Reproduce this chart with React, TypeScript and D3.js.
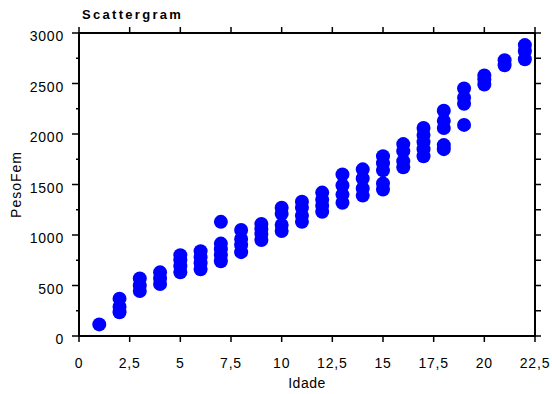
import React, { useRef, useEffect } from 'react';
import * as d3 from 'd3';

// Idade (x) -> PesoFem readings (y)
const ages = [1, 2, 3, 4, 5, 6, 7, 8, 9, 10, 11, 12, 13, 14, 15, 16, 17, 18, 19, 20, 21, 22];
const weights: number[][] = [
  [115],
  [235, 290, 370],
  [445, 500, 570],
  [515, 570, 630],
  [630, 690, 750, 800],
  [660, 720, 780, 840],
  [740, 800, 860, 915, 1130],
  [830, 900, 960, 1050],
  [950, 1010, 1060, 1110],
  [1040, 1100, 1210, 1270],
  [1130, 1190, 1270, 1330],
  [1230, 1290, 1350, 1420],
  [1320, 1400, 1490, 1600],
  [1390, 1460, 1560, 1650],
  [1450, 1510, 1640, 1710, 1780],
  [1670, 1730, 1830, 1900],
  [1780, 1850, 1920, 1990, 2060],
  [1850, 1890, 2060, 2130, 2230],
  [2090, 2300, 2360, 2450],
  [2490, 2540, 2580],
  [2680, 2730],
  [2740, 2820, 2880],
];
const xTicks = [0, 2.5, 5, 7.5, 10, 12.5, 15, 17.5, 20, 22.5];
const yTicks = [0, 500, 1000, 1500, 2000, 2500, 3000];
const yMinor = [250, 750, 1250, 1750, 2250, 2750];

const W = 552;
const H = 394;

const App: React.FC = () => {
  const svgRef = useRef<SVGSVGElement>(null);

  useEffect(() => {
    if (!svgRef.current) return;
    const svg = d3.select(svgRef.current);
    svg.selectAll('*').remove();

    const left = 79, right = 535, top = 33, bottom = 336;
    const x = d3.scaleLinear().domain([0, 22.5]).range([left, right]);
    const y = d3.scaleLinear().domain([0, 3000]).range([bottom, top]);
    const font = '"Liberation Sans", Arial, sans-serif';
    const fmt = (d: number) => String(d).replace('.', ',');

    const points = ages.flatMap((a, i) => weights[i].map(w => ({ a, w })));

    // points
    svg.append('g')
      .selectAll('circle')
      .data(points)
      .enter()
      .append('circle')
      .attr('cx', d => x(d.a))
      .attr('cy', d => y(d.w))
      .attr('r', 7)
      .attr('fill', '#0000ff');

    // frame
    svg.append('rect')
      .attr('x', left)
      .attr('y', top)
      .attr('width', right - left)
      .attr('height', bottom - top)
      .attr('fill', 'none')
      .attr('stroke', '#000')
      .attr('stroke-width', 2);

    const ticks = svg.append('g').attr('stroke', '#000').attr('stroke-width', 1.5);

    // x ticks, bottom and top
    xTicks.forEach(t => {
      ticks.append('line').attr('x1', x(t)).attr('x2', x(t)).attr('y1', bottom).attr('y2', bottom + 6);
      ticks.append('line').attr('x1', x(t)).attr('x2', x(t)).attr('y1', top).attr('y2', top - 6);
    });
    // y ticks
    yTicks.forEach(t => {
      ticks.append('line').attr('x1', left - 7).attr('x2', left).attr('y1', y(t)).attr('y2', y(t));
      ticks.append('line').attr('x1', right).attr('x2', right + 6).attr('y1', y(t)).attr('y2', y(t));
    });
    yMinor.forEach(t => {
      ticks.append('line').attr('x1', left - 3).attr('x2', left).attr('y1', y(t)).attr('y2', y(t));
      ticks.append('line').attr('x1', right).attr('x2', right + 6).attr('y1', y(t)).attr('y2', y(t));
    });

    // tick labels
    svg.append('g')
      .selectAll('text')
      .data(xTicks)
      .enter()
      .append('text')
      .attr('x', d => x(d))
      .attr('y', 368)
      .attr('text-anchor', 'middle')
      .style('font-family', font)
      .style('font-size', '14px')
      .style('letter-spacing', '0.8px')
      .text(d => fmt(d));

    svg.append('g')
      .selectAll('text')
      .data(yTicks)
      .enter()
      .append('text')
      .attr('x', 64)
      .attr('y', d => y(d) + 8)
      .attr('text-anchor', 'end')
      .style('font-family', font)
      .style('font-size', '14px')
      .style('letter-spacing', '0.8px')
      .text(d => fmt(d));

    // titles
    svg.append('text')
      .attr('x', 82)
      .attr('y', 19)
      .style('font-family', font)
      .style('font-size', '13px')
      .style('font-weight', 'bold')
      .style('letter-spacing', '2.3px')
      .text('Scattergram');

    svg.append('text')
      .attr('x', (left + right) / 2)
      .attr('y', 388)
      .attr('text-anchor', 'middle')
      .style('font-family', font)
      .style('font-size', '14px')
      .style('letter-spacing', '0.5px')
      .text('Idade');

    svg.append('text')
      .attr('transform', `translate(21, ${(top + bottom) / 2}) rotate(-90)`)
      .attr('text-anchor', 'middle')
      .style('font-family', font)
      .style('font-size', '14px')
      .style('letter-spacing', '1px')
      .text('PesoFem');
  }, []);

  return (
    <svg
      ref={svgRef}
      width={W}
      height={H}
      style={{ position: 'absolute', left: 0, top: 0, background: '#fff' }}
    />
  );
};

export default App;
